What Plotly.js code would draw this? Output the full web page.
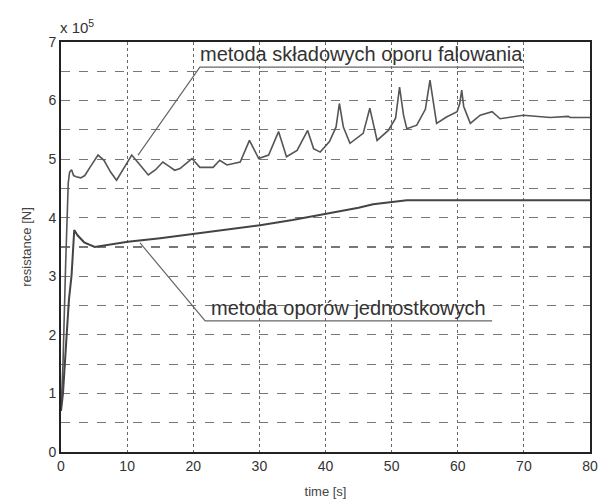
<!DOCTYPE html>
<html>
<head>
<meta charset="utf-8">
<script src="https://cdn.plot.ly/plotly-3.0.1.min.js"></script>
<style>html,body{margin:0;padding:0;background:#fff;}#chart{width:598px;height:503px;}</style>
</head>
<body>
<div id="chart"></div>
<script>
// time [s] and resistance [x 10^5 N] — upper curve: metoda składowych oporu falowania
const tUpper = [0, 0.3, 0.7, 1.0, 1.1, 1.3, 1.6, 1.9, 2.3, 3.0, 3.6, 4.5, 5.6, 6.5, 7.5, 8.4, 9.5, 10.7, 11.8, 13.2, 14.3, 15.4, 16.3, 17.2, 18.0, 19.8, 21.0, 23.0, 24.0, 25.1, 27.1, 28.5, 29.9, 31.4, 32.9, 34.1, 35.7, 37.3, 38.2, 39.2, 40.6, 41.6, 42.1, 42.7, 43.7, 45.7, 46.7, 47.8, 49.5, 50.6, 51.2, 51.8, 52.3, 53.8, 55.1, 55.8, 56.8, 58.3, 59.9, 60.3, 60.6, 60.9, 61.9, 63.4, 65.2, 66.4, 69.9, 74.0, 76.7, 77.0, 80];
const rUpper = [0.7, 1.5, 3.2, 4.5, 4.6, 4.78, 4.82, 4.72, 4.7, 4.68, 4.72, 4.88, 5.07, 4.98, 4.78, 4.64, 4.85, 5.07, 4.92, 4.73, 4.82, 4.95, 4.88, 4.81, 4.84, 5.01, 4.86, 4.86, 4.98, 4.90, 4.95, 5.32, 5.01, 5.07, 5.47, 5.04, 5.15, 5.49, 5.18, 5.12, 5.3, 5.55, 5.95, 5.55, 5.27, 5.44, 5.87, 5.32, 5.49, 5.7, 6.23, 5.75, 5.52, 5.58, 5.85, 6.35, 5.61, 5.72, 5.81, 5.95, 6.18, 5.9, 5.61, 5.75, 5.81, 5.69, 5.75, 5.71, 5.73, 5.71, 5.71];
// lower curve: metoda oporów jednostkowych
const tLower = [0, 0.3, 0.8, 1.2, 1.6, 2.0, 2.5, 3.5, 5.1, 10.1, 15, 20.3, 25, 30.1, 35, 40.2, 45, 47.2, 50.2, 52.3, 60, 70, 80];
const rLower = [0.7, 1.0, 1.9, 2.6, 3.02, 3.79, 3.7, 3.58, 3.50, 3.59, 3.65, 3.73, 3.80, 3.87, 3.96, 4.07, 4.17, 4.23, 4.27, 4.30, 4.30, 4.30, 4.30];

const xTicks = [0, 10, 20, 30, 40, 50, 60, 70, 80];
const yGrid = [0, 0.5, 1, 1.5, 2, 2.5, 3, 3.5, 4, 4.5, 5, 5.5, 6, 6.5, 7];
const yTickText = ['0', '', '1', '', '2', '', '3', '', '4', '', '5', '', '6', '', '7'];
const labelUpper = "metoda składowych oporu falowania";
const labelLower = "metoda oporów jednostkowych";
// leader lines (data coords): point on curve -> elbow -> end of underline
const leaderUpperX = [11.65, 21.0, 69.9];
const leaderUpperY = [5.07, 6.57, 6.57];
const leaderLowerX = [11.95, 21.8, 65.2];
const leaderLowerY = [3.57, 2.24, 2.24];

const lineCol = '#555';
const traces = [
  {x: tUpper, y: rUpper, mode: 'lines', line: {color: lineCol, width: 1.6}, hoverinfo: 'skip'},
  {x: tLower, y: rLower, mode: 'lines', line: {color: '#444', width: 2}, hoverinfo: 'skip'},
  {x: leaderUpperX, y: leaderUpperY, mode: 'lines', line: {color: '#666', width: 1.2}, hoverinfo: 'skip'},
  {x: leaderLowerX, y: leaderLowerY, mode: 'lines', line: {color: '#666', width: 1.2}, hoverinfo: 'skip'}
];

const fam = 'Liberation Sans, Arial, sans-serif';
const layout = {
  width: 598, height: 503,
  margin: {l: 61, r: 8, t: 42, b: 51},
  paper_bgcolor: '#fff', plot_bgcolor: '#fff',
  showlegend: false,
  font: {family: fam, size: 14, color: '#333'},
  xaxis: {
    range: [0, 80], tickvals: xTicks, ticktext: xTicks.map(String),
    showgrid: true, gridcolor: '#666', griddash: 'dot', gridwidth: 1,
    showline: true, linecolor: '#222', linewidth: 2, mirror: true,
    ticks: '', zeroline: false,
    title: {text: 'time [s]', font: {family: fam, size: 13, color: '#444'}, standoff: 14},
    tickfont: {size: 14, color: '#333'}
  },
  yaxis: {
    range: [0, 7], tickvals: yGrid, ticktext: yTickText,
    showgrid: true, gridcolor: '#777', griddash: 'dash', gridwidth: 1.2,
    showline: true, linecolor: '#222', linewidth: 2, mirror: true,
    ticks: '', zeroline: false,
    title: {text: 'resistance [N]', font: {family: fam, size: 13, color: '#444'}, standoff: 14},
    tickfont: {size: 14, color: '#333'}
  },
  annotations: [
    {xref: 'paper', yref: 'paper', x: 0.0, y: 1.0, xanchor: 'left', yanchor: 'bottom', yshift: 4, xshift: -3,
     text: 'x 10<sup>5</sup>', showarrow: false, font: {family: fam, size: 15, color: '#333'}},
    {xref: 'x', yref: 'y', x: (leaderUpperX[1] + leaderUpperX[2]) / 2, y: leaderUpperY[1], xanchor: 'center', yanchor: 'bottom',
     text: labelUpper, showarrow: false, yshift: 0, font: {family: fam, size: 20, color: '#333'}},
    {xref: 'x', yref: 'y', x: (leaderLowerX[1] + leaderLowerX[2]) / 2, y: leaderLowerY[1], xanchor: 'center', yanchor: 'bottom',
     text: labelLower, showarrow: false, yshift: 0, font: {family: fam, size: 20, color: '#333'}}
  ]
};

Plotly.newPlot('chart', traces, layout, {displayModeBar: false, staticPlot: true});
</script>
</body>
</html>
